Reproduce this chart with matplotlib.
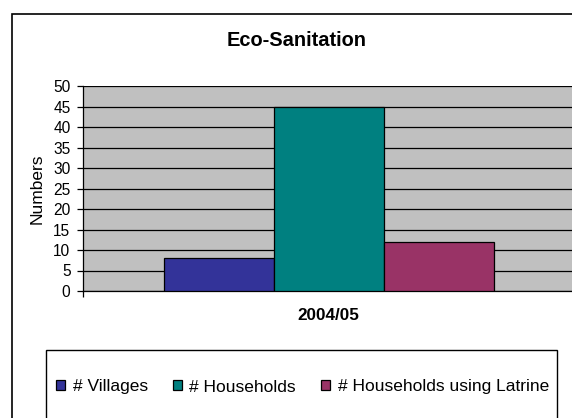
import matplotlib
matplotlib.use('Agg')
import matplotlib.pyplot as plt
from matplotlib.patches import Rectangle

# data
category = '2004/05'
series = ['# Villages', '# Households', '# Households using Latrine']
values = [8, 45, 12]
colors = ['#333399', '#008080', '#993366']
yticks = [0, 5, 10, 15, 20, 25, 30, 35, 40, 45, 50]

plt.rcParams['font.family'] = ['Liberation Sans', 'DejaVu Sans']

fig = plt.figure(figsize=(5.72, 4.18), dpi=100)
W, H = 572, 418

# outer chart border (runs off the right and bottom edges)
fig.patches.append(Rectangle((12 / W, -0.1), 1.2, 1 - 14 / H + 0.1,
                             transform=fig.transFigure, fill=False,
                             edgecolor='black', linewidth=1.2))

ax = fig.add_axes([83 / W, 1 - 291 / H, 491 / W, 205 / H])
ax.set_facecolor('#C0C0C0')

bar_w = 110 / 491
offsets = [-bar_w, 0, bar_w]
handles = []
for name, v, c, off in zip(series, values, colors, offsets):
    b = ax.bar(off, v, width=bar_w, color=c, edgecolor='black',
               linewidth=0.9, label=name, zorder=3)
    handles.append(b)

ax.set_xlim(-0.5, 0.5)
ax.set_ylim(0, 50)
ax.set_yticks(yticks)
ax.yaxis.grid(True, color='black', linewidth=0.9)
ax.set_axisbelow(True)
ax.tick_params(axis='y', labelsize=11.2, length=4, width=0.9, pad=5)

ax.set_xticks([0])
ax.set_xticklabels([category], fontweight='bold', fontsize=12.3)
ax.set_xticks([-0.5, 0.5], minor=True)
ax.tick_params(axis='x', which='major', length=0, pad=12)
ax.tick_params(axis='x', which='minor', length=4, width=0.9)

for s in ['top', 'right']:
    ax.spines[s].set_visible(False)
for s in ['left', 'bottom']:
    ax.spines[s].set_linewidth(0.9)

ax.set_ylabel('Numbers', fontsize=12.5)
ax.yaxis.set_label_coords((45 - 83) / 491, 0.5)

fig.text(297 / W, 1 - 40 / H, 'Eco-Sanitation', ha='center', va='center',
         fontsize=14.4, fontweight='bold')

# legend frame (extends below the visible area)
fig.patches.append(Rectangle((46 / W, -0.1), (557 - 46) / W, 1 - 350 / H + 0.1,
                             transform=fig.transFigure, fill=False,
                             edgecolor='black', linewidth=1.0))
fig.legend(handles=handles, labels=series, loc='center',
           bbox_to_anchor=(302.5 / W, 1 - 387 / H), ncol=3, frameon=False,
           fontsize=12.5, handlelength=0.5, handleheight=0.5,
           handletextpad=0.45, columnspacing=1.45, borderpad=0)

fig.savefig('out.png', dpi=100)
